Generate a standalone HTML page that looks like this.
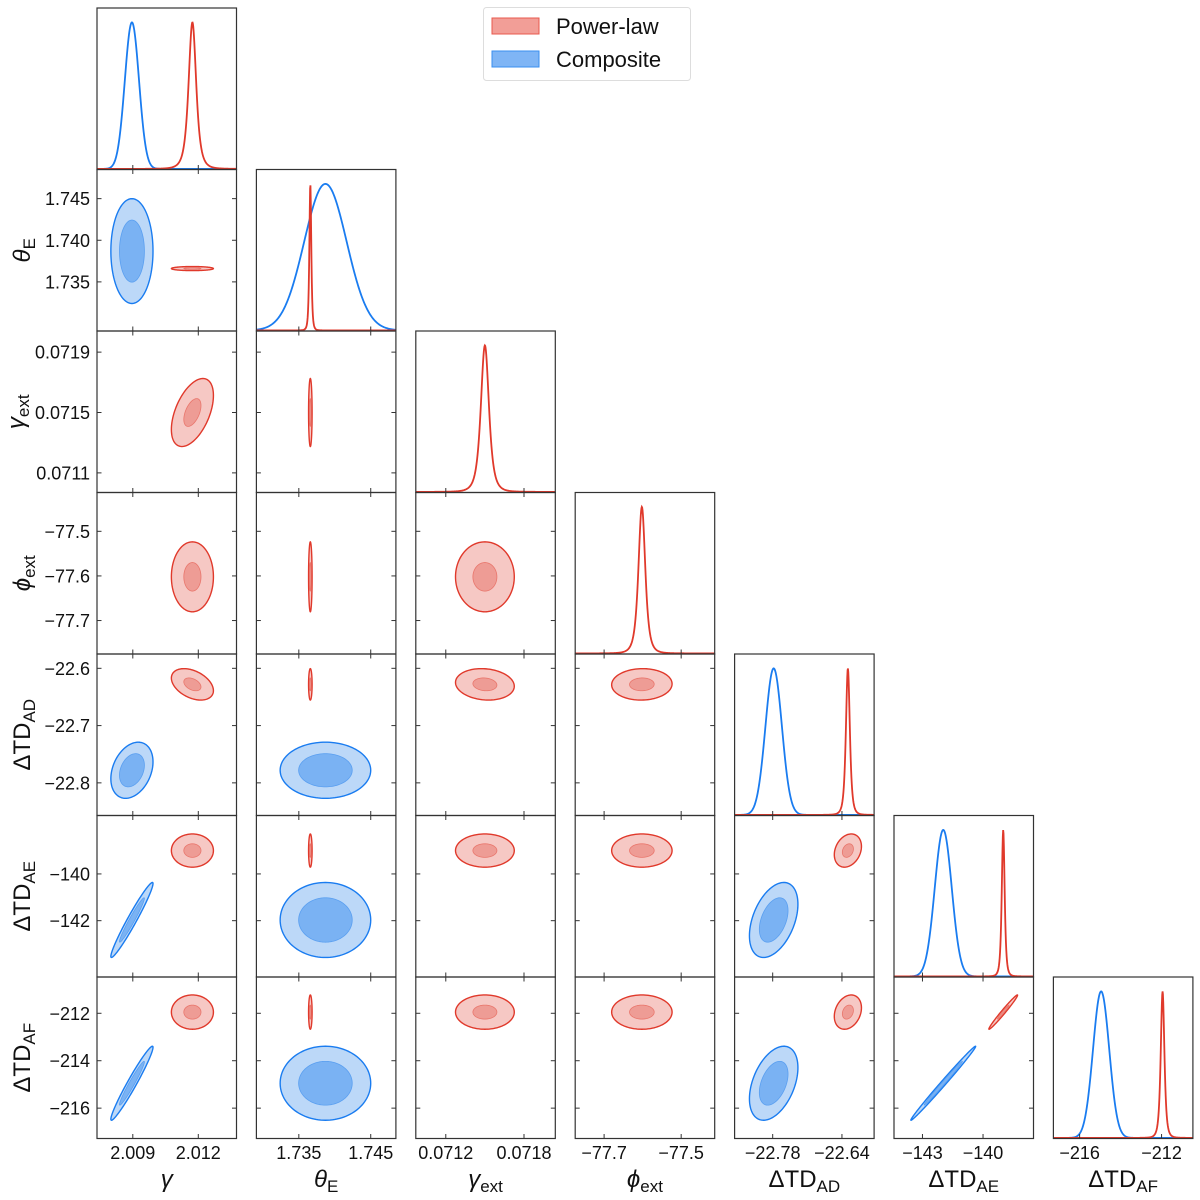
<!DOCTYPE html>
<html><head><meta charset="utf-8"><style>
html,body{margin:0;padding:0;background:#fff;}
svg{display:block;}
text{font-family:"Liberation Sans","DejaVu Sans",sans-serif;fill:#111;}
</style></head><body>
<svg id="fig" xmlns="http://www.w3.org/2000/svg" width="1200" height="1200" viewBox="0 0 1200 1200">
<rect x="0" y="0" width="1200" height="1200" fill="#fff"/>
<g id="legend">
<rect x="483.5" y="7.5" width="207" height="73" rx="3" fill="#fff" stroke="#ddd" stroke-width="1"/>
<g>
<rect x="492" y="18" width="47" height="16" fill="#f29e97" stroke="#e8584c" stroke-width="1"/>
<text x="556" y="34" font-size="22">Power-law</text></g>
<g>
<rect x="492" y="51" width="47" height="16" fill="#7fb5f5" stroke="#3a8ff0" stroke-width="1"/>
<text x="556" y="67" font-size="22">Composite</text></g>
</g>
</svg>
<script>
// parameter order: gamma, thetaE, gammaExt, phiExt, dTD_AD, dTD_AE, dTD_AF
const paramLo = [2.00736, 1.7291, 0.07097, -77.775, -22.857, -144.41, -217.28];
const paramHi = [2.01375, 1.7485, 0.07204, -77.413, -22.575, -137.5, -210.47];
const xTicks = [[2.009,2.012],[1.735,1.745],[0.0712,0.0718],[-77.7,-77.5],[-22.78,-22.64],[-143,-140],[-216,-212]];
const xTickLabels = [["2.009","2.012"],["1.735","1.745"],["0.0712","0.0718"],["\u221277.7","\u221277.5"],["\u221222.78","\u221222.64"],["\u2212143","\u2212140"],["\u2212216","\u2212212"]];
const yTicks = [[],[1.735,1.740,1.745],[0.0711,0.0715,0.0719],[-77.7,-77.6,-77.5],[-22.8,-22.7,-22.6],[-142,-140],[-216,-214,-212]];
const yTickLabels = [[],["1.735","1.740","1.745"],["0.0711","0.0715","0.0719"],["\u221277.7","\u221277.6","\u221277.5"],["\u221222.8","\u221222.7","\u221222.6"],["\u2212142","\u2212140"],["\u2212216","\u2212214","\u2212212"]];
// Power-law (red)
const redMean = [2.01173, 1.7366, 0.0715, -77.602, -22.628, -139.0, -211.95];
const redSd2d = [0.000393, 0.0001, 0.000092, 0.032, 0.0112, 0.29, 0.295];
const redSd1d = [0.000183, 0.00014, 0.0000327, 0.0093, 0.0042, 0.075, 0.094];
const redCorr = [[0,2,0.5],[0,4,-0.4],[2,4,-0.12],[3,4,0.03],[4,5,0.25],[4,6,0.25],[5,6,0.985]];
// Composite (blue)
const blueMean = [2.00896, 1.7387, null, null, -22.778, -141.97, -214.95];
const blueSd2d = [0.000394, 0.00257, null, null, 0.02, 0.655, 0.637];
const blueSd1d = [0.000324, 0.00295, null, null, 0.0166, 0.42, 0.395];
const blueCorr = [[0,4,0.3],[0,5,0.97],[0,6,0.97],[4,5,0.42],[4,6,0.42],[5,6,0.995]];

const NS="http://www.w3.org/2000/svg";
const svg=document.getElementById('fig');
const L0=97, T0=8, DX=159.4, DY=161.5, W=139.5, H=161.5, N=7;
function xPix(p,col,v){return L0+DX*col+(v-paramLo[p])/(paramHi[p]-paramLo[p])*W;}
function yPix(p,row,v){return T0+DY*row+H-(v-paramLo[p])/(paramHi[p]-paramLo[p])*H;}
function mk(tag,attrs,parent){const e=document.createElementNS(NS,tag);for(const k in attrs)e.setAttribute(k,attrs[k]);(parent||svg).appendChild(e);return e;}
function corr(list,a,b){for(const c of list){if((c[0]===a&&c[1]===b)||(c[0]===b&&c[1]===a))return c[2];}return 0;}

const models=[
 {name:'power-law',mean:redMean,sd2:redSd2d,sd1:redSd1d,corr:redCorr,line:'#e0392b',outer:'#f6c8c4',inner:'#ee9c95',innerEdge:'#e9766c',radii:[2.45,1.0],t:true},
 {name:'composite',mean:blueMean,sd2:blueSd2d,sd1:blueSd1d,corr:blueCorr,line:'#1a7cf0',outer:'#bcd8f8',inner:'#7ab2f3',innerEdge:'#5a9ff0',radii:[2.45,1.45],t:false}
];
const drawOrder=[models[1],models[0]];

const defs=mk('defs',{});
for(let r=0;r<N;r++){for(let c=0;c<=r;c++){
  const cp=mk('clipPath',{id:'clip'+r+'_'+c},defs);
  mk('rect',{x:L0+DX*c,y:T0+DY*r,width:W,height:H},cp);
}}

for(let r=0;r<N;r++){for(let c=0;c<=r;c++){
  const g=mk('g',{});
  
  
  const x0=L0+DX*c, y0=T0+DY*r;
  const inner=mk('g',{'clip-path':'url(#clip'+r+'_'+c+')'},g);
  if(r===c){
    for(const m of drawOrder){
      if(m.mean[c]===null)continue;
      let d='';
      for(let i=0;i<=400;i++){
        const v=paramLo[c]+(paramHi[c]-paramLo[c])*i/400;
        const z=(v-m.mean[c])/m.sd1[c];
        const f=m.t?Math.pow(1+z*z/3,-2):Math.exp(-0.5*z*z);
        const px=xPix(c,c,v), py=y0+H-0.6-146.5*f;
        d+=(i?'L':'M')+px.toFixed(2)+','+py.toFixed(2);
      }
      const path=mk('path',{d:d,fill:'none',stroke:m.line,'stroke-width':1.8},inner);
      
      
    }
  } else {
    for(const m of drawOrder){
      if(m.mean[c]===null||m.mean[r]===null)continue;
      const rho=corr(m.corr,c,r);
      for(let k=0;k<2;k++){
        const rad=m.radii[k];
        let d='';
        for(let i=0;i<=120;i++){
          const t=2*Math.PI*i/120, u=Math.cos(t), w=Math.sin(t);
          const vx=m.mean[c]+rad*m.sd2[c]*u;
          const vy=m.mean[r]+rad*m.sd2[r]*(rho*u+Math.sqrt(1-rho*rho)*w);
          d+=(i?'L':'M')+xPix(c,c,vx).toFixed(2)+','+yPix(r,r,vy).toFixed(2);
        }
        d+='Z';
        const p=mk('path',{d:d,fill:k?m.inner:m.outer,stroke:k?m.innerEdge:m.line,'stroke-width':k?0.8:1.4},inner);
        
        
      }
    }
  }
  mk('rect',{x:x0,y:y0,width:W,height:H,fill:'none',stroke:'#333','stroke-width':1.2},g);
  for(const tv of xTicks[c]){
    const px=xPix(c,c,tv);
    mk('line',{x1:px,x2:px,y1:y0+H,y2:y0+H-4.5,stroke:'#333','stroke-width':1},g);
    if(r!==c) mk('line',{x1:px,x2:px,y1:y0,y2:y0+4.5,stroke:'#333','stroke-width':1},g);
  }
  if(r!==c){
    for(const tv of yTicks[r]){
      const py=yPix(r,r,tv);
      mk('line',{x1:x0,x2:x0+4.5,y1:py,y2:py,stroke:'#333','stroke-width':1},g);
      mk('line',{x1:x0+W,x2:x0+W-4.5,y1:py,y2:py,stroke:'#333','stroke-width':1},g);
    }
  }
}}

for(let c=0;c<N;c++){
  xTicks[c].forEach((tv,i)=>{
    const t=mk('text',{x:xPix(c,c,tv),y:1159,'font-size':18,'text-anchor':'middle'});
    t.textContent=xTickLabels[c][i];
    
    
  });
}
for(let r=1;r<N;r++){
  yTicks[r].forEach((tv,i)=>{
    const t=mk('text',{x:90,y:yPix(r,r,tv)+6.5,'font-size':18,'text-anchor':'end'});
    t.textContent=yTickLabels[r][i];
    
    
  });
}

const labelMain=['\u03b3','\u03b8','\u03b3','\u03d5','\u0394TD','\u0394TD','\u0394TD'];
const labelSub=['','E','ext','ext','AD','AE','AF'];
const labelItalic=[true,true,true,true,false,false,false];
function axisLabel(p,x,y,rot,name){
  const t=mk('text',{x:x,y:y,'font-size':24,'text-anchor':'middle'});
  if(rot)t.setAttribute('transform','rotate(-90 '+x+' '+y+')');
  
  
  const a=mk('tspan',{},t); a.textContent=labelMain[p]; if(labelItalic[p])a.setAttribute('font-style','italic');
  if(labelSub[p]){const b=mk('tspan',{'font-size':17,dy:5},t); b.textContent=labelSub[p];}
}
for(let c=0;c<N;c++) axisLabel(c,L0+DX*c+W/2,1187,false,'x-axis-title-'+c);
for(let r=1;r<N;r++) axisLabel(r,r===2?24:30,T0+DY*r+H/2,true,'y-axis-title-'+r);

svg.appendChild(document.getElementById('legend'));
</script>
</body></html>
